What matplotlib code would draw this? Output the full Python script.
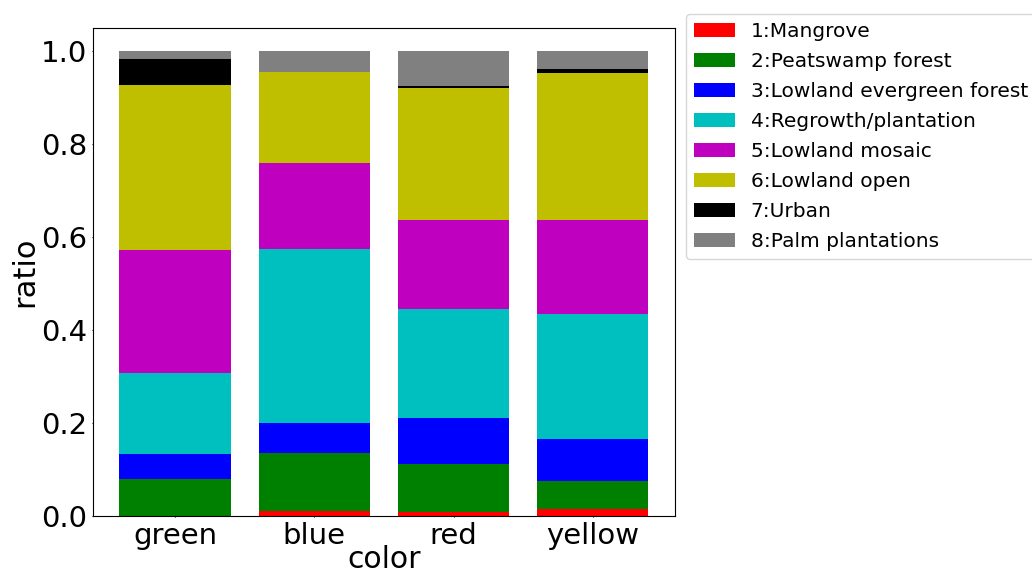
import matplotlib
matplotlib.use("Agg")
import matplotlib.pyplot as plt
import numpy as np

# Data
colors_x = ['green', 'blue', 'red', 'yellow']
classes = ['1:Mangrove', '2:Peatswamp forest', '3:Lowland evergreen forest',
           '4:Regrowth/plantation', '5:Lowland mosaic', '6:Lowland open',
           '7:Urban', '8:Palm plantations']
mangrove = [0.000, 0.011, 0.009, 0.015]
peatswamp = [0.079, 0.124, 0.104, 0.060]
lowland_evergreen = [0.054, 0.065, 0.098, 0.091]
regrowth = [0.175, 0.374, 0.234, 0.268]
lowland_mosaic = [0.265, 0.185, 0.193, 0.204]
lowland_open = [0.355, 0.196, 0.283, 0.316]
urban = [0.056, 0.000, 0.004, 0.008]
palm = [0.016, 0.045, 0.075, 0.038]

series = [mangrove, peatswamp, lowland_evergreen, regrowth,
          lowland_mosaic, lowland_open, urban, palm]
bar_colors = ['r', 'g', 'b', 'c', 'm', 'y', 'k', 'gray']

fig = plt.figure(figsize=(10.32, 5.74), dpi=100)
ax = fig.add_axes([0.090, 0.101, 0.564, 0.850])

# stacked bars, one layer per land-cover class
x = np.arange(len(colors_x))
bottom = np.zeros(len(colors_x))
for name, vals, c in zip(classes, series, bar_colors):
    ax.bar(x, vals, 0.8, bottom=bottom, color=c, label=name)
    bottom += np.array(vals)

ax.set_xticks(x)
ax.set_xticklabels(colors_x)
ax.tick_params(labelsize=21, length=1, pad=3)
ax.set_xlabel('color', fontsize=21.5, labelpad=-3.5)
ax.set_ylabel('ratio', fontsize=22, labelpad=1)

fig.legend(loc='upper left', bbox_to_anchor=(0.665, 0.976), borderaxespad=0,
           fontsize=14.5, labelspacing=0.55)

fig.savefig('out.png', dpi=100)
